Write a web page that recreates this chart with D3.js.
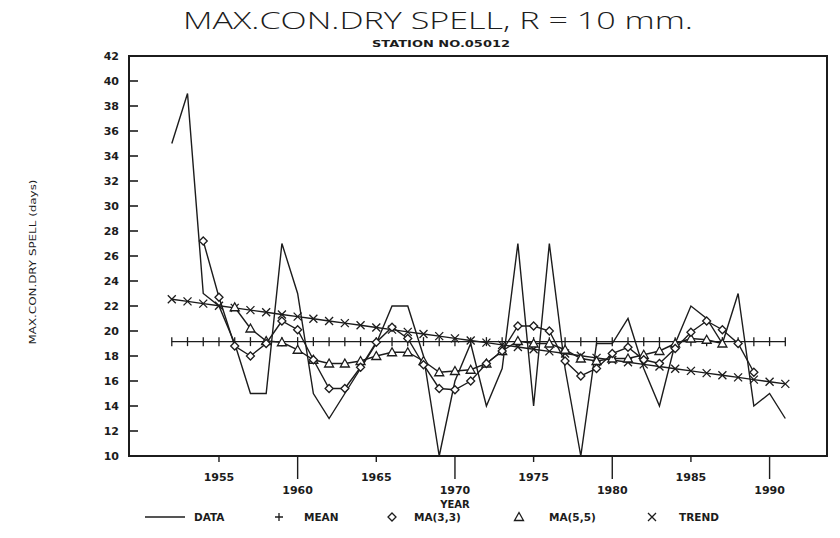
<!DOCTYPE html>
<html>
<head>
<meta charset="utf-8">
<script src="https://cdnjs.cloudflare.com/ajax/libs/d3/7.8.5/d3.min.js"></script>
<style>
  body { margin: 0; background: #fff; }
  text { fill: #1c1c1c; }
</style>
</head>
<body>
<div id="my_dataviz"></div>
<script>

var years = [1952, 1953, 1954, 1955, 1956, 1957, 1958, 1959, 1960, 1961,
             1962, 1963, 1964, 1965, 1966, 1967, 1968, 1969, 1970, 1971,
             1972, 1973, 1974, 1975, 1976, 1977, 1978, 1979, 1980, 1981,
             1982, 1983, 1984, 1985, 1986, 1987, 1988, 1989, 1990, 1991]

var dryspell = [35, 39, 23, 22, 19, 15, 15, 27, 23, 15,
                13, 15, 17, 19, 22, 22, 18, 10, 16, 19,
                14, 17, 27, 14, 27, 17, 10, 19, 19, 21,
                17, 14, 19, 22, 21, 19, 23, 14, 15, 13]

var meanValue = 19.15

var trend = [22.54, 22.37, 22.19, 22.02, 21.85, 21.67, 21.50, 21.32, 21.15, 20.98,
             20.80, 20.63, 20.46, 20.28, 20.11, 19.93, 19.76, 19.59, 19.41, 19.24,
             19.07, 18.89, 18.72, 18.54, 18.37, 18.20, 18.02, 17.85, 17.68, 17.50,
             17.33, 17.16, 16.98, 16.81, 16.63, 16.46, 16.29, 16.11, 15.94, 15.77]

// MA(3,3) from 1954 to 1989
var ma33Years = [1954, 1955, 1956, 1957, 1958, 1959, 1960, 1961, 1962, 1963,
                 1964, 1965, 1966, 1967, 1968, 1969, 1970, 1971, 1972, 1973,
                 1974, 1975, 1976, 1977, 1978, 1979, 1980, 1981, 1982, 1983,
                 1984, 1985, 1986, 1987, 1988, 1989]
var ma33 = [27.2, 22.7, 18.8, 18.0, 19.0, 20.8, 20.1, 17.7, 15.4, 15.4,
            17.1, 19.1, 20.3, 19.4, 17.3, 15.4, 15.3, 16.0, 17.4, 18.4,
            20.4, 20.4, 20.0, 17.6, 16.4, 17.0, 18.2, 18.7, 17.7, 17.4,
            18.6, 19.9, 20.8, 20.1, 19.0, 16.7]

// MA(5,5) from 1956 to 1987
var ma55Years = [1956, 1957, 1958, 1959, 1960, 1961, 1962, 1963, 1964, 1965,
                 1966, 1967, 1968, 1969, 1970, 1971, 1972, 1973, 1974, 1975,
                 1976, 1977, 1978, 1979, 1980, 1981, 1982, 1983, 1984, 1985,
                 1986, 1987]
var ma55 = [21.9, 20.2, 19.2, 19.1, 18.5, 17.7, 17.4, 17.4, 17.6, 18.0,
            18.3, 18.3, 17.6, 16.7, 16.8, 16.9, 17.4, 18.4, 19.2, 19.0,
            19.0, 18.5, 17.8, 17.6, 17.8, 17.8, 18.1, 18.4, 19.0, 19.4,
            19.3, 19.0]

var yTicks = [10, 12, 14, 16, 18, 20, 22, 24, 26, 28, 30, 32, 34, 36, 38, 40, 42]
var xTicks = [1955, 1960, 1965, 1970, 1975, 1980, 1985, 1990]

var legendNames = ['DATA', 'MEAN', 'MA(3,3)', 'MA(5,5)', 'TREND']

var margin = {top: 56, right: 13, bottom: 82, left: 129},
    width = 840 - margin.left - margin.right,
    height = 538 - margin.top - margin.bottom;

var root = d3.select("#my_dataviz")
    .append("svg")
      .attr("width", 840)
      .attr("height", 538)

var svg = root.append("g")
      .attr("transform", "translate(" + margin.left + "," + margin.top + ")");

var x = d3.scaleLinear().domain([1949.28, 1993.65]).range([0, width])
var y = d3.scaleLinear().domain([10, 42]).range([height, 0])

var ink = "#1c1c1c"
var tickFont = "'DejaVu Sans', sans-serif"

// titles
root.append("text")
    .attr("x", 438).attr("y", 29)
    .attr("text-anchor", "middle")
    .style("font-family", "'Open Sans', 'Liberation Sans', sans-serif")
    .style("font-weight", 300)
    .style("font-size", "23px")
    .attr("textLength", 510).attr("lengthAdjust", "spacingAndGlyphs")
    .text("MAX.CON.DRY SPELL, R = 10 mm.")

root.append("text")
    .attr("x", 441).attr("y", 47)
    .attr("text-anchor", "middle")
    .style("font-family", tickFont)
    .style("font-weight", "bold")
    .style("font-size", "9px")
    .attr("textLength", 138).attr("lengthAdjust", "spacingAndGlyphs")
    .text("STATION NO.05012")

root.append("text")
    .attr("transform", "translate(36,262) rotate(-90)")
    .attr("text-anchor", "middle")
    .style("font-family", tickFont)
    .style("font-size", "9.5px")
    .attr("textLength", 165).attr("lengthAdjust", "spacingAndGlyphs")
    .text("MAX.CON.DRY SPELL (days)")

// frame
svg.append("rect")
    .attr("x", 0).attr("y", 0)
    .attr("width", width).attr("height", height)
    .attr("fill", "none")
    .attr("stroke", ink)
    .attr("stroke-width", 2)

// y ticks (inside) and labels
svg.append("g")
    .selectAll("line")
    .data(yTicks)
    .enter()
    .append("line")
    .attr("x1", 0).attr("x2", 9)
    .attr("y1", d => y(d)).attr("y2", d => y(d))
    .attr("stroke", ink).attr("stroke-width", 1.6)

svg.append("g")
    .selectAll("text")
    .data(yTicks)
    .enter()
    .append("text")
    .attr("x", -10)
    .attr("y", d => y(d))
    .attr("dy", "0.36em")
    .attr("text-anchor", "end")
    .style("font-family", tickFont)
    .style("font-weight", "bold")
    .style("font-size", "11px")
    .text(d => d)

// x ticks: staggered labels
svg.append("g")
    .selectAll("line")
    .data(xTicks)
    .enter()
    .append("line")
    .attr("x1", d => x(d)).attr("x2", d => x(d))
    .attr("y1", height).attr("y2", (d, i) => i % 2 ? height + 23 : height + 6)
    .attr("stroke", ink).attr("stroke-width", 1.4)

svg.append("g")
    .selectAll("text")
    .data(xTicks)
    .enter()
    .append("text")
    .attr("x", d => x(d))
    .attr("y", (d, i) => i % 2 ? height + 38 : height + 25)
    .attr("text-anchor", "middle")
    .style("font-family", tickFont)
    .style("font-weight", "bold")
    .style("font-size", "11px")
    .text(d => d)

svg.append("text")
    .attr("x", x(1970)).attr("y", height + 52)
    .attr("text-anchor", "middle")
    .style("font-family", tickFont)
    .style("font-weight", "bold")
    .style("font-size", "10px")
    .text("YEAR")

// marker shapes
var shapes = {
    plus: "M0,-4.5V4.5",
    cross: "M-4,-4L4,4M-4,4L4,-4",
    diamond: "M0,-4L4,0L0,4L-4,0Z",
    triangle: "M0,-4.5L4.5,3.5L-4.5,3.5Z"
}

var line = d3.line().x(d => x(d.year)).y(d => y(d.value))

function series(ys, vals) {
    var out = []
    for (let i = 0; i < ys.length; i++) {
        out.push({year: ys[i], value: vals[i]})
    }
    return out
}

var dataPts = series(years, dryspell)
var meanPts = series(years, years.map(() => meanValue))
var trendPts = series(years, trend)
var ma33Pts = series(ma33Years, ma33)
var ma55Pts = series(ma55Years, ma55)

var lines = [dataPts, meanPts, trendPts, ma33Pts, ma55Pts]
svg.append("g")
    .selectAll("path")
    .data(lines)
    .enter()
    .append("path")
    .attr("d", line)
    .attr("fill", "none")
    .attr("stroke", ink)
    .attr("stroke-width", 1.4)
    .attr("stroke-linejoin", "miter")

function markers(pts, shape, fill) {
    svg.append("g")
        .selectAll("path")
        .data(pts)
        .enter()
        .append("path")
        .attr("transform", d => "translate(" + x(d.year) + "," + y(d.value) + ")")
        .attr("d", shapes[shape])
        .attr("fill", fill)
        .attr("stroke", ink)
        .attr("stroke-width", 1.3)
}

markers(meanPts, "plus", "none")
markers(trendPts, "cross", "none")
markers(ma55Pts, "triangle", "#fff")
markers(ma33Pts, "diamond", "#fff")

// legend
var leg = root.append("g").attr("transform", "translate(0,517)")
var legendX = [{mark: 165, text: 194}, {mark: 279, text: 304}, {mark: 392, text: 414},
               {mark: 519, text: 549}, {mark: 652, text: 679}]
var legendShape = [null, "M-4,0H4M0,-4V4", shapes.diamond, shapes.triangle, shapes.cross]

leg.append("line")
    .attr("x1", 145).attr("x2", 185).attr("y1", 0).attr("y2", 0)
    .attr("stroke", ink).attr("stroke-width", 1.6)

leg.selectAll(".lm")
    .data(legendX.slice(1))
    .enter()
    .append("path")
    .attr("transform", d => "translate(" + d.mark + ",0)")
    .attr("d", (d, i) => legendShape[i + 1])
    .attr("fill", "none")
    .attr("stroke", ink)
    .attr("stroke-width", 1.3)

leg.selectAll("text")
    .data(legendNames)
    .enter()
    .append("text")
    .attr("x", (d, i) => legendX[i].text)
    .attr("dy", "0.36em")
    .style("font-family", tickFont)
    .style("font-weight", "bold")
    .style("font-size", "10.5px")
    .text(d => d)

</script>
</body>
</html>
